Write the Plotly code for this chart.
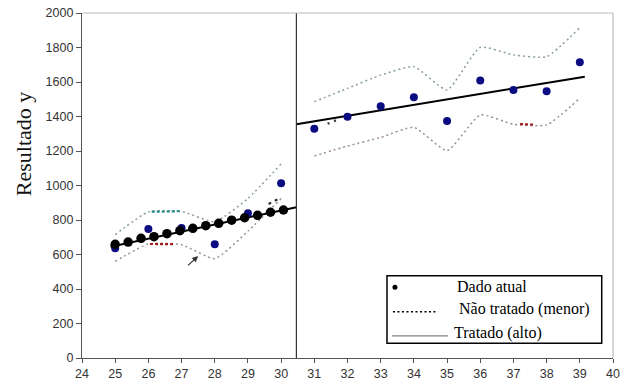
import plotly.graph_objects as go

# ---- data ----
x_left = [25, 26, 27, 28, 29, 30]
x_right = [31, 32, 33, 34, 35, 36, 37, 38, 39]

actual_left = [636, 748, 754, 659, 839, 1013]
actual_right = [1329, 1399, 1459, 1511, 1374, 1608, 1554, 1546, 1714]

upper_left = [715, 847, 850, 790, 925, 1125]
lower_left = [560, 661, 657, 576, 735, 925]
upper_right = [1486, 1563, 1640, 1689, 1554, 1801, 1757, 1747, 1915]
lower_right = [1171, 1229, 1279, 1337, 1202, 1409, 1355, 1351, 1506]

x_fit = [25.0, 25.39, 25.78, 26.17, 26.56, 26.95, 27.34, 27.73, 28.12, 28.51, 28.9, 29.29, 29.68, 30.07]
y_fit = [659, 672, 694, 703, 721, 738, 752, 767, 781, 799, 813, 827, 845, 858]

trend_left_x = [24.86, 30.46]
trend_left_y = [645, 874]
trend_right_x = [30.46, 39.15]
trend_right_y = [1355, 1631]

cut_x = 30.46

x_ticks = list(range(24, 41))
y_ticks = list(range(0, 2001, 200))

legend_labels = ["Dado atual", "Não tratado (menor)", "Tratado (alto)"]

BLUE = "#0c0c82"
UP_COL = "#8a9e9e"
LO_COL = "#a08e8e"

fig = go.Figure()

def band(x, y, color):
    fig.add_trace(go.Scatter(x=x, y=y, mode="lines",
                             line=dict(color=color, width=1.5, dash="2px,3px", shape="spline", smoothing=0.5),
                             showlegend=False, hoverinfo="skip"))

band(x_left, upper_left, UP_COL)
band(x_left, lower_left, LO_COL)
band(x_right, upper_right, UP_COL)
band(x_right, lower_right, LO_COL)

# coloured highlight pieces on the bands
def seg(x, y, color, dash="3px,2px", width=2.2):
    fig.add_trace(go.Scatter(x=x, y=y, mode="lines", line=dict(color=color, width=width, dash=dash),
                             showlegend=False, hoverinfo="skip"))

seg([26.1, 26.95], [848, 851], "#2a8a8a")
seg([26.05, 26.75], [661, 660], "#a01c1c")
seg([37.2, 37.6], [1356, 1353], "#a01c1c")
seg([29.62, 29.98], [893, 928], "#333333", dash="3px,4px")
seg([31.4, 31.76], [1358, 1386], "#333333", dash="2px,5px")

# trend lines
fig.add_trace(go.Scatter(x=trend_left_x, y=trend_left_y, mode="lines",
                         line=dict(color="#000", width=2), showlegend=False, hoverinfo="skip"))
fig.add_trace(go.Scatter(x=trend_right_x, y=trend_right_y, mode="lines",
                         line=dict(color="#000", width=2), showlegend=False, hoverinfo="skip"))

# actual data (blue)
fig.add_trace(go.Scatter(x=x_left + x_right, y=actual_left + actual_right, mode="markers",
                         marker=dict(color=BLUE, size=8), showlegend=False, hoverinfo="skip"))
# black fitted dots
fig.add_trace(go.Scatter(x=x_fit, y=y_fit, mode="markers",
                         marker=dict(color="#000", size=9.5), showlegend=False, hoverinfo="skip"))

# legend box
fig.add_shape(type="rect", x0=33.19, x1=39.66, y0=85, y1=477, xref="x", yref="y",
              line=dict(color="#000", width=1.5), fillcolor="white", layer="below")
fig.add_trace(go.Scatter(x=[33.43], y=[410], mode="markers", marker=dict(color="#000", size=5),
                         showlegend=False, hoverinfo="skip"))
fig.add_trace(go.Scatter(x=[33.37, 34.73], y=[268, 268], mode="lines",
                         line=dict(color="#000", width=1.6, dash="2px,2.5px"), showlegend=False, hoverinfo="skip"))
fig.add_trace(go.Scatter(x=[33.34, 35.03], y=[128, 128], mode="lines",
                         line=dict(color="#666", width=1), showlegend=False, hoverinfo="skip"))
for tx, ty, t in [(35.24, 412, legend_labels[0]), (35.31, 282, legend_labels[1]), (35.14, 147, legend_labels[2])]:
    fig.add_annotation(x=tx, y=ty, xref="x", yref="y", text=t, showarrow=False, xanchor="left",
                       yanchor="middle", font=dict(family="Liberation Serif", size=16, color="#000"))

# vertical divider
fig.add_shape(type="line", x0=cut_x, x1=cut_x, y0=0, y1=2000, xref="x", yref="y",
              line=dict(color="#333", width=1.2))
# top and right frame
fig.add_shape(type="line", x0=0, x1=1, y0=1, y1=1, xref="paper", yref="paper",
              line=dict(color="#bbbbbb", width=1.2))
fig.add_shape(type="line", x0=1, x1=1, y0=0, y1=1, xref="paper", yref="paper",
              line=dict(color="#bbbbbb", width=1.2))

# arrow
fig.add_annotation(x=27.5, y=591, ax=27.15, ay=529, xref="x", yref="y", axref="x", ayref="y",
                   text="", showarrow=True, arrowhead=2, arrowsize=1, arrowwidth=1.2, arrowcolor="#333")

# y-axis title
fig.add_annotation(x=-0.111, y=0.62, xref="paper", yref="paper", text="Resultado y", textangle=-90,
                   xanchor="center", yanchor="middle",
                   showarrow=False, font=dict(family="Liberation Serif", size=22, color="#111"))

tick_font = dict(family="Liberation Sans, Arial", size=12.5, color="#333")
fig.update_xaxes(range=[24, 40], tickvals=x_ticks, ticktext=[str(v) for v in x_ticks],
                 showline=True, linecolor="#555", linewidth=1.2, ticks="outside", ticklen=4,
                 tickcolor="#555", showgrid=False, zeroline=False, tickfont=tick_font,
                 automargin=False, ticklabeloverflow="allow")
fig.update_yaxes(range=[0, 2000], tickvals=y_ticks, ticktext=[str(v) for v in y_ticks],
                 showline=True, linecolor="#555", linewidth=1.2, ticks="outside", ticklen=5,
                 tickcolor="#555", showgrid=False, zeroline=False, tickfont=tick_font,
                 automargin=False, ticklabeloverflow="allow")

fig.update_layout(width=625, height=385, margin=dict(l=82, r=12, t=13, b=27),
                  plot_bgcolor="white", paper_bgcolor="white")

# remove the page's default body margin so the figure sits at the window's corner
fig.write_html("out.html", config={"displayModeBar": False},
               post_script="document.body.style.margin='0px';document.body.style.overflow='hidden';")
